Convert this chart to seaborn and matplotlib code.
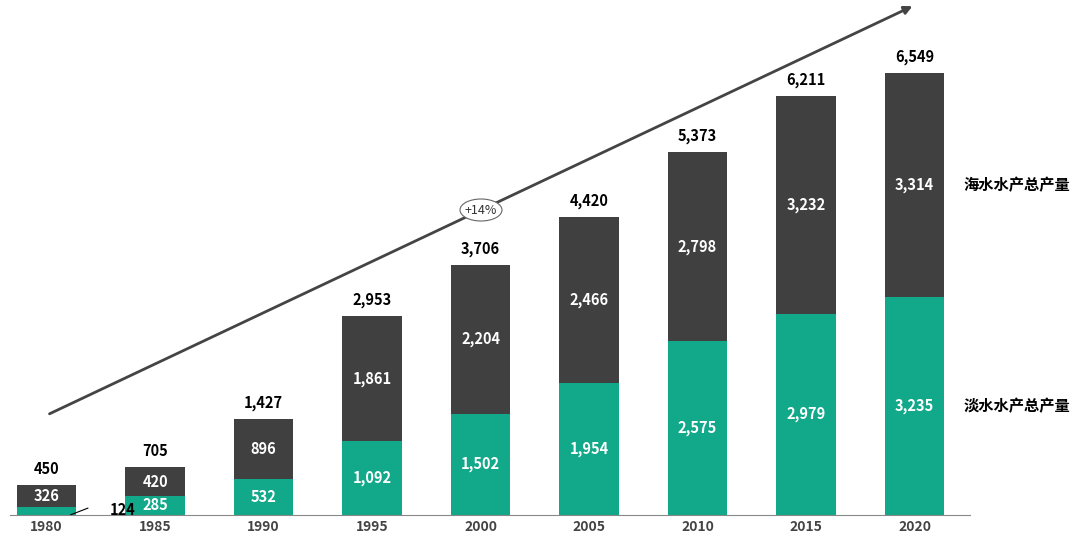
import matplotlib
matplotlib.use("Agg")
import matplotlib.pyplot as plt
import seaborn as sns
import pandas as pd
from matplotlib.patches import Ellipse

years = ["1980","1985","1990","1995","2000","2005","2010","2015","2020"]
fresh = [124,285,532,1092,1502,1954,2575,2979,3235]
marine = [326,420,896,1861,2204,2466,2798,3232,3314]
totals = [450,705,1427,2953,3706,4420,5373,6211,6549]

plt.rcParams["font.family"] = ["Noto Sans CJK SC", "DejaVu Sans"]
dark = "#404040"; green = "#12A88A"

df = pd.DataFrame({"year": years, "fresh": fresh, "total": totals})
fig = plt.figure(figsize=(10.8, 5.45), dpi=100)
ax = fig.add_axes([0.009, 0.055, 0.889, 0.904])
sns.barplot(data=df, x="year", y="total", color=dark, width=0.55, saturation=1, ax=ax)
sns.barplot(data=df, x="year", y="fresh", color=green, width=0.55, saturation=1, ax=ax)
ax.set_xlim(-0.34, 8.51)
ax.set_ylim(0, 7300)
for s in ["top","right","left"]:
    ax.spines[s].set_visible(False)
ax.spines["bottom"].set_color("#888888")
ax.set_yticks([])
ax.set_xlabel(""); ax.set_ylabel("")
ax.tick_params(axis="x", length=0, labelsize=10, colors="#444444")
for t in ax.get_xticklabels():
    t.set_fontweight("bold")

def fmt(v): return f"{v:,}"
for i in range(len(years)):
    ax.text(i, totals[i] + 120, fmt(totals[i]), ha="center", va="bottom", fontsize=10.5, fontweight="bold")
    ax.text(i, fresh[i] + marine[i] / 2, fmt(marine[i]), ha="center", va="center", color="white", fontsize=10.5, fontweight="bold")
    if i == 0:
        ax.text(0.7, fresh[i] / 2 + 10, fmt(fresh[i]), ha="center", va="center", fontsize=10.5, fontweight="bold")
        ax.plot([0.22, 0.38], [fresh[i] / 2 - 60, fresh[i] / 2 + 40], color="black", lw=0.8)
    else:
        ax.text(i, fresh[i] / 2, fmt(fresh[i]), ha="center", va="center", color="white", fontsize=10.5, fontweight="bold")

fig.patches.append(matplotlib.patches.FancyArrowPatch(
    (47/1080, 1-415/545), (915/1080, 1-5/545), transform=fig.transFigure,
    arrowstyle="-|>", mutation_scale=12, color="#444444", lw=2))
fig.patches.append(Ellipse((481/1080, 1-210/545), 42/1080, 22/545, transform=fig.transFigure,
    facecolor="white", edgecolor="#666666", lw=0.8))
fig.text(481/1080, 1-210/545, "+14%", ha="center", va="center", fontsize=9, color="#333333")
fig.text(1017/1080, 1-185/545, "海水水产总产量", ha="center", va="center", fontsize=11, fontweight="bold")
fig.text(1017/1080, 1-406/545, "淡水水产总产量", ha="center", va="center", fontsize=11, fontweight="bold")
fig.savefig("out.png", dpi=100)
